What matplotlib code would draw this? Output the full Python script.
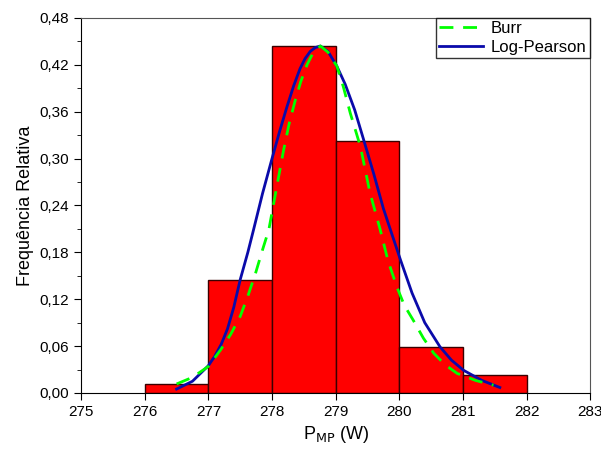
import numpy as np
import matplotlib.pyplot as plt
from matplotlib.ticker import MultipleLocator

plt.rcParams['font.family'] = ['Liberation Sans', 'DejaVu Sans']

# histogram (bin left edges, relative frequency)
bin_left = [276, 277, 278, 279, 280, 281]
freq = [0.012, 0.144, 0.444, 0.323, 0.059, 0.0235]

# fitted curves
burr_x = [276.5, 276.75, 277.0, 277.19, 277.35, 277.5, 277.62, 277.74, 277.85, 277.95,
          278.07, 278.18, 278.27, 278.36, 278.45, 278.55, 278.65, 278.76, 278.88, 279.02,
          279.12, 279.23, 279.39, 279.54, 279.70, 279.82, 279.96, 280.08, 280.22,
          280.38, 280.54, 280.72, 280.91, 281.2, 281.48]
burr_y = [0.0115, 0.02, 0.034, 0.055, 0.075, 0.098, 0.124, 0.153, 0.183, 0.209,
          0.262, 0.310, 0.345, 0.373, 0.398, 0.420, 0.436, 0.444, 0.436, 0.418,
          0.392, 0.358, 0.315, 0.256, 0.209, 0.170, 0.136, 0.112, 0.093,
          0.070, 0.051, 0.036, 0.025, 0.016, 0.010]

lp_x = [276.5, 276.75, 277.0, 277.1, 277.2, 277.3, 277.4, 277.5, 277.62, 277.71,
        277.85, 278.0, 278.12, 278.23, 278.34, 278.44, 278.52, 278.6, 278.68, 278.76,
        278.88, 279.02, 279.15, 279.3, 279.44, 279.6, 279.75, 279.86, 280.02, 280.2,
        280.4, 280.64, 280.82, 281.01, 281.3, 281.58]
lp_y = [0.005, 0.015, 0.035, 0.047, 0.062, 0.082, 0.110, 0.145, 0.180, 0.209,
        0.255, 0.300, 0.335, 0.365, 0.393, 0.415, 0.428, 0.437, 0.442, 0.444,
        0.437, 0.418, 0.395, 0.362, 0.324, 0.280, 0.236, 0.209, 0.170, 0.128,
        0.090, 0.059, 0.042, 0.029, 0.016, 0.007]

xticks = [275, 276, 277, 278, 279, 280, 281, 282, 283]
yticks = [0.0, 0.06, 0.12, 0.18, 0.24, 0.30, 0.36, 0.42, 0.48]

fig = plt.figure(figsize=(6.01, 4.58), dpi=100)
ax = fig.add_axes([0.135, 0.142, 0.847, 0.819])

ax.bar(bin_left, freq, width=1, align='edge', color='#ff0000',
       edgecolor='#3a0000', linewidth=1, zorder=1)
ax.plot(burr_x, burr_y, '--', color='#00ff00', lw=2, dashes=(5, 3.5),
        label='Burr', zorder=3, solid_joinstyle='round')
ax.plot(lp_x, lp_y, '-', color='#0a0aaa', lw=2, label='Log-Pearson', zorder=2,
        solid_joinstyle='round')

ax.set_xlim(275, 283)
ax.set_ylim(0, 0.48)
ax.set_xticks(xticks)
ax.set_xticklabels([str(t) for t in xticks])
ax.set_yticks(yticks)
ax.set_yticklabels([f'{t:.2f}'.replace('.', ',') for t in yticks])
ax.yaxis.set_minor_locator(MultipleLocator(0.03))
ax.tick_params(axis='both', which='major', direction='out', length=5, labelsize=11)
ax.tick_params(axis='y', which='minor', direction='out', length=3)

for s in ['top', 'right']:
    ax.spines[s].set_color('#555555')

ax.set_xlabel('P$_{\\mathrm{MP}}$ (W)', fontsize=13)
ax.set_ylabel('Frequência Relativa', fontsize=13)

leg = ax.legend(loc='upper right', fontsize=12, frameon=True, fancybox=False,
                borderaxespad=0, handlelength=2.6, handletextpad=0.5,
                borderpad=0.2, labelspacing=0.2)
leg.get_frame().set_edgecolor('black')
leg.get_frame().set_linewidth(1)

fig.savefig('out.png', dpi=100)
